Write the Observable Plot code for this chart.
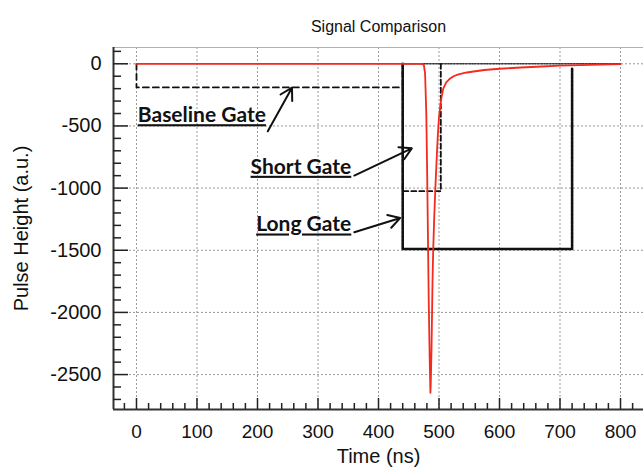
<!DOCTYPE html>
<html><head><meta charset="utf-8">
<script src="https://cdn.jsdelivr.net/npm/d3@7"></script>
<script src="https://cdn.jsdelivr.net/npm/@observablehq/plot@0.6"></script>
<style>body{margin:0;background:#fff}</style>
</head><body><div id="chart"></div>
<script>
const title = "Signal Comparison";
const xLabel = "Time (ns)";
const yLabel = "Pulse Height (a.u.)";
const xDomain = [-38, 838];
const yDomain = [-2781, 131];
const xMajorTicks = [0, 100, 200, 300, 400, 500, 600, 700, 800];
const xMinorTicks = [-20, 20, 40, 60, 80, 120, 140, 160, 180, 220, 240, 260, 280, 320, 340, 360, 380,
  420, 440, 460, 480, 520, 540, 560, 580, 620, 640, 660, 680, 720, 740, 760, 780, 820];
const yMajorTicks = [0, -500, -1000, -1500, -2000, -2500];
const yMinorTicks = [100, -100, -200, -300, -400, -600, -700, -800, -900, -1100, -1200, -1300, -1400,
  -1600, -1700, -1800, -1900, -2100, -2200, -2300, -2400, -2600, -2700];

// red pulse signal
const signalTime  = [0, 472, 475, 477, 479, 480.5, 482, 483, 484.5, 485.8, 486.5, 487.6, 489.3, 490.4, 492, 494, 496, 498, 500, 503, 507, 512, 518, 524, 532, 546, 560, 575, 600, 635, 670, 700, 750, 800];
const signalValue = [0, 0, -10, -80, -400, -900, -1500, -1900, -2350, -2647, -2550, -2300, -1745, -1500, -1250, -1000, -780, -580, -430, -300, -200, -150, -120, -100, -85, -70, -60, -50, -40, -30, -22, -15, -8, -3];

// gates
const baselineGateTime  = [0, 0, 440, 440];
const baselineGateValue = [0, -190, -190, 0];
const shortGateTime  = [440, 440, 503, 503];
const shortGateValue = [0, -1025, -1025, 0];
const longGateTime  = [440, 440, 720, 720];
const longGateValue = [0, -1490, -1490, -40];
const gateTopTime  = [440, 800];
const gateTopValue = [0, 0];

// annotations
const labelText  = ["Baseline Gate", "Short Gate", "Long Gate"];
const labelTime  = [214, 355, 355];
const labelValue = [-470, -885, -1349];
const arrowFromTime  = [217, 360, 360];
const arrowFromValue = [-543, -899, -1355];
const arrowToTime    = [257, 455, 436];
const arrowToValue   = [-192, -680, -1240];

const pts = (xs, ys) => xs.map((x, i) => ({x, y: ys[i]}));
const signal = pts(signalTime, signalValue);
const labels = labelText.map((t, i) => ({t, x: labelTime[i], y: labelValue[i]}));
const arrows = labelText.map((t, i) => ({x1: arrowFromTime[i], y1: arrowFromValue[i], x2: arrowToTime[i], y2: arrowToValue[i]}));
const fmt = d => String(d);

const chart = Plot.plot({
  width: 643, height: 471,
  marginLeft: 113, marginRight: 0, marginTop: 47, marginBottom: 62,
  style: {fontFamily: "'Liberation Sans', Arial, sans-serif", background: "#fff", color: "#111"},
  x: {domain: xDomain},
  y: {domain: yDomain},
  marks: [
    Plot.gridX(xMajorTicks, {stroke: "#9a9a9a", strokeOpacity: 1, strokeDasharray: "2,2"}),
    Plot.gridY(yMajorTicks, {stroke: "#9a9a9a", strokeOpacity: 1, strokeDasharray: "2,2"}),
    Plot.ruleY([yDomain[1]], {stroke: "#b0b0b0", strokeWidth: 1.2}),
    Plot.line(pts(gateTopTime, gateTopValue), {x: "x", y: "y", stroke: "#333", strokeWidth: 1.5, strokeDasharray: "1.5,1.5"}),
    Plot.line(pts(baselineGateTime, baselineGateValue), {x: "x", y: "y", stroke: "#111", strokeWidth: 1.8, strokeDasharray: "6,4"}),
    Plot.line(pts(shortGateTime, shortGateValue), {x: "x", y: "y", stroke: "#111", strokeWidth: 1.8, strokeDasharray: "5,3"}),
    Plot.line(pts(longGateTime, longGateValue), {x: "x", y: "y", stroke: "#111", strokeWidth: 2.6, strokeDasharray: "3,0.8"}),
    Plot.line(signal, {x: "x", y: "y", stroke: "#f52a1c", strokeWidth: 1.8}),
    Plot.ruleX([xDomain[0]], {stroke: "#333", strokeWidth: 2}),
    Plot.ruleY([yDomain[0]], {stroke: "#333", strokeWidth: 2}),
    Plot.axisY(yMajorTicks, {tickSize: -15, tickPadding: 27, fontSize: 20, tickFormat: fmt, label: null, stroke: "#222", strokeWidth: 1.5}),
    Plot.axisY(yMinorTicks, {tickSize: -8, tickFormat: () => "", label: null, stroke: "#222", strokeWidth: 1.5}),
    Plot.axisX(xMajorTicks, {tickSize: -11, tickPadding: 26, fontSize: 19, tickFormat: fmt, label: null, stroke: "#222", strokeWidth: 1.5}),
    Plot.axisX(xMinorTicks, {tickSize: -6, tickFormat: () => "", label: null, stroke: "#222", strokeWidth: 1.5}),
    Plot.text(labels, {x: "x", y: "y", text: "t", textAnchor: "end", lineAnchor: "bottom",
      fontFamily: "Lato, 'Open Sans', sans-serif", fontWeight: "bold", fontSize: 21, fill: "#111"}),
    Plot.arrow(arrows, {x1: "x1", y1: "y1", x2: "x2", y2: "y2", stroke: "#111", strokeWidth: 2, headLength: 10}),
    Plot.text([title], {frameAnchor: "top", dy: -27, fontSize: 16, fill: "#111"}),
    Plot.text([xLabel], {frameAnchor: "bottom", dy: 53, fontSize: 20, fill: "#111"}),
    Plot.text([yLabel], {frameAnchor: "left", dx: -92, rotate: -90, textAnchor: "middle", fontSize: 20, fill: "#111"})
  ]
});
d3.select(chart).selectAll("text").filter(function() { return labelText.includes(this.textContent); })
  .style("text-decoration", "underline");
document.getElementById("chart").appendChild(chart);
</script>
</body></html>
